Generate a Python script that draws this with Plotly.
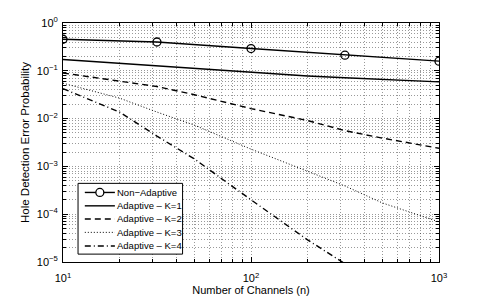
import plotly.graph_objects as go

# Data (log-log)
n_markers = [10, 31.6, 100, 316, 1000]
non_adaptive = [0.457, 0.40, 0.292, 0.212, 0.159]

n_curve = [10, 20, 31.6, 50, 100, 200, 316, 500, 1000]
adaptive_k1 = [0.172, 0.144, 0.128, 0.111, 0.092, 0.078, 0.0718, 0.0658, 0.0586]
adaptive_k2 = [0.090, 0.0617, 0.0468, 0.0316, 0.0162, 0.0091, 0.0056, 0.0039, 0.0024]
adaptive_k3 = [0.055, 0.0268, 0.0137, 0.0073, 0.0023, 8.0e-4, 3.9e-4, 1.72e-4, 6.9e-5]
adaptive_k4 = [0.0423, 0.0137, 0.00431, 0.00143, 2.0e-4, 2.9e-5, 9.2e-6, 2.8e-6, 4.0e-7]

series_names = ["Non\u2212Adaptive", "Adaptive \u2013 K=1", "Adaptive \u2013 K=2",
                "Adaptive \u2013 K=3", "Adaptive \u2013 K=4"]

x_tickvals = [10, 100, 1000]
x_ticktext = ["10<sup>1</sup>", "10<sup>2</sup>", "10<sup>3</sup>"]
y_tickvals = [1e-5, 1e-4, 1e-3, 1e-2, 1e-1, 1]
y_ticktext = ["10<sup>\u22125</sup>", "10<sup>\u22124</sup>", "10<sup>\u22123</sup>",
              "10<sup>\u22122</sup>", "10<sup>\u22121</sup>", "10<sup>0</sup>"]

x_minor = [m * d for d in (10, 100) for m in range(2, 10)]
y_minor = [m * d for d in (1e-5, 1e-4, 1e-3, 1e-2, 1e-1) for m in range(2, 10)]

FONT = "Liberation Sans, Arial, Helvetica, sans-serif"
GRID = "rgba(0,0,0,0.40)"
GRID_DASH = "1px,2px"

styles = [
    dict(dash="solid", width=1.4),
    dict(dash="solid", width=1.4),
    dict(dash="6px,4px", width=1.4),
    dict(dash="1px,2px", width=1.0),
    dict(dash="6px,3px,1px,3px", width=1.4),
]

fig = go.Figure()
fig.add_trace(go.Scatter(x=n_markers, y=non_adaptive, mode="lines+markers", name=series_names[0],
                         line=dict(color="black", **styles[0]),
                         marker=dict(symbol="circle-open", size=8, color="black", line=dict(width=1.3))))
for name, ys, st in zip(series_names[1:], [adaptive_k1, adaptive_k2, adaptive_k3, adaptive_k4], styles[1:]):
    fig.add_trace(go.Scatter(x=n_curve, y=ys, mode="lines", name=name, line=dict(color="black", **st)))

axis_common = dict(
    type="log", showline=True, linecolor="black", linewidth=1, mirror="ticks",
    ticks="inside", ticklen=5, tickcolor="black", tickwidth=1, automargin=False,
    showgrid=True, gridcolor=GRID, griddash=GRID_DASH, gridwidth=1,
    zeroline=False, tickfont=dict(family=FONT, size=11, color="black"),
)
minor_common = dict(ticks="inside", ticklen=3, tickcolor="black",
                    showgrid=True, gridcolor=GRID, griddash=GRID_DASH, gridwidth=1)

fig.update_xaxes(**axis_common, range=[1, 3], tickmode="array", tickvals=x_tickvals, ticktext=x_ticktext,
                 minor=dict(tickvals=x_minor, **minor_common),
                 ticklabelstandoff=6,
                 title=dict(text="Number of Channels (n)", font=dict(family=FONT, size=11, color="black"),
                            standoff=1))
fig.update_yaxes(**axis_common, range=[-5, 0], tickmode="array", tickvals=y_tickvals, ticktext=y_ticktext,
                 minor=dict(tickvals=y_minor, **minor_common),
                 ticklabelstandoff=2,
                 title=dict(text="Hole Detection Error Probability", font=dict(family=FONT, size=11.5, color="black"),
                            standoff=4))

# Legend box drawn in paper coordinates (MATLAB-style compact legend)
box_x0, box_x1, box_y0, box_y1 = 0.040, 0.318, 0.033, 0.329
key_x0, key_x1, text_x = 0.058, 0.138, 0.141
row_y = [0.291, 0.235, 0.180, 0.124, 0.067]

shapes = [dict(type="rect", xref="paper", yref="paper", x0=box_x0, x1=box_x1, y0=box_y0, y1=box_y1,
               fillcolor="white", line=dict(color="black", width=1), layer="above")]
annotations = []
for name, st, ry in zip(series_names, styles, row_y):
    shapes.append(dict(type="line", xref="paper", yref="paper", x0=key_x0, x1=key_x1, y0=ry, y1=ry,
                       line=dict(color="black", width=st["width"], dash=st["dash"]), layer="above"))
    annotations.append(dict(text=name, xref="paper", yref="paper", x=text_x, y=ry, xanchor="left",
                            yanchor="middle", showarrow=False, borderpad=0,
                            font=dict(family=FONT, size=9.5, color="black")))
# circle key for the Non-Adaptive entry
cx = (key_x0 + key_x1) / 2
shapes.append(dict(type="circle", xref="paper", yref="paper", xsizemode="pixel", ysizemode="pixel",
                   xanchor=cx, yanchor=row_y[0], x0=-4, x1=4, y0=-4, y1=4,
                   fillcolor="white", line=dict(color="black", width=1.3), layer="above"))

# The page body adds an 8px offset, so the figure is sized to fit the visible window
fig.update_layout(
    width=477, height=288,
    margin=dict(l=55, r=46, t=15, b=34),
    paper_bgcolor="white", plot_bgcolor="white",
    font=dict(family=FONT, size=10, color="black"),
    showlegend=False,
    shapes=shapes, annotations=annotations,
)

fig.write_html("out.html")
